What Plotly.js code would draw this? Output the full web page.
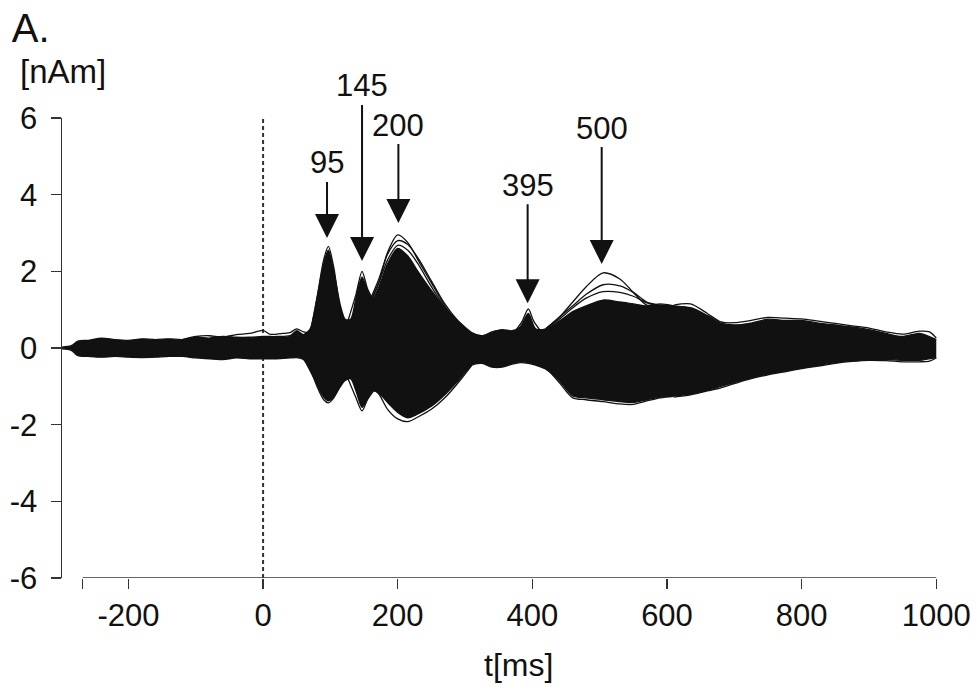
<!DOCTYPE html>
<html>
<head>
<meta charset="utf-8">
<script src="https://cdn.plot.ly/plotly-3.0.1.min.js"></script>
<style>html,body{margin:0;padding:0;background:#fff;}#chart{width:978px;height:690px;}</style>
</head>
<body>
<div id="chart"></div>
<script>
// ---- Data (t in ms, amplitude in nAm) ----
const time = [-300,-285,-275,-260,-240,-220,-200,-180,-160,-140,-120,-100,-80,-60,-40,-20,0,20,40,50,60,70,80,90,97,105,115,122,130,138,147,155,163,172,185,200,215,230,250,270,290,310,325,340,355,370,382,394,405,420,440,460,480,505,530,550,570,590,610,635,660,680,700,725,750,775,800,825,850,875,900,925,950,975,1000];

// outer bounds of the dense bundle of source waveforms
const upperEnvelope = [0.02,0.06,0.18,0.2,0.26,0.22,0.2,0.24,0.22,0.24,0.22,0.28,0.26,0.3,0.28,0.28,0.3,0.3,0.32,0.45,0.35,0.5,1.3,2.2,2.55,2.0,1.1,0.75,0.75,1.3,1.85,1.5,1.3,1.6,2.2,2.6,2.4,2.0,1.5,1.05,0.7,0.4,0.32,0.42,0.48,0.45,0.55,0.9,0.5,0.5,0.7,0.95,1.1,1.25,1.2,1.15,1.1,1.12,1.1,1.05,0.85,0.65,0.6,0.65,0.75,0.72,0.72,0.65,0.6,0.55,0.48,0.38,0.3,0.38,0.22];
const lowerEnvelope = [-0.02,-0.06,-0.2,-0.22,-0.24,-0.22,-0.24,-0.25,-0.24,-0.22,-0.22,-0.26,-0.28,-0.3,-0.26,-0.28,-0.28,-0.28,-0.26,-0.25,-0.3,-0.6,-0.95,-1.28,-1.38,-1.28,-1.0,-0.85,-0.8,-1.12,-1.55,-1.32,-1.12,-1.18,-1.42,-1.68,-1.82,-1.72,-1.52,-1.22,-0.85,-0.45,-0.4,-0.5,-0.5,-0.42,-0.38,-0.4,-0.45,-0.55,-0.85,-1.25,-1.3,-1.35,-1.4,-1.42,-1.35,-1.28,-1.25,-1.2,-1.1,-1.0,-0.9,-0.78,-0.68,-0.6,-0.52,-0.45,-0.38,-0.33,-0.3,-0.3,-0.32,-0.32,-0.25];

// individual outer waveforms that stand out of the bundle
const tBaseline = [-120,-100,-80,-60,-40,-20,0,10,20,30,40,50,60,70];
const baselineTop = [0.22,0.3,0.32,0.28,0.35,0.38,0.46,0.36,0.36,0.38,0.4,0.5,0.42,0.4];

const tP95 = [70,80,90,97,105,115,125];
const p95Top = [0.4,1.3,2.3,2.65,2.1,1.0,0.55];
const p95Bottom = [-0.5,-1.0,-1.35,-1.43,-1.3,-0.95,-0.7];

const tP145 = [125,138,147,155,165];
const p145Top = [0.65,1.4,2.0,1.55,1.2];
const p145Bottom = [-0.75,-1.3,-1.64,-1.35,-1.1];

const tP200 = [160,172,185,200,215,230,250,270,290,310];
const p200TopA = [1.2,1.7,2.5,2.95,2.75,2.3,1.7,1.1,0.65,0.35];
const p200TopB = [1.3,1.8,2.45,2.8,2.7,2.35,1.75,1.15,0.7,0.38];
const p200TopC = [1.25,1.7,2.3,2.68,2.55,2.2,1.6,1.05,0.6,0.35];
const p200Bottom = [-1.0,-1.2,-1.6,-1.85,-1.92,-1.8,-1.6,-1.3,-0.9,-0.45];

const tP395 = [375,385,394,402,412];
const p395Top = [0.45,0.7,1.02,0.7,0.45];

const tP500 = [420,440,460,480,505,530,550,570,590,610];
const p500TopA = [0.5,0.8,1.2,1.6,1.96,1.8,1.45,1.12,1.15,1.1];
const p500TopB = [0.5,0.8,1.1,1.4,1.65,1.62,1.45,1.2,1.12,1.08];
const p500TopC = [0.5,0.75,1.05,1.3,1.47,1.45,1.35,1.18,1.1,1.06];
const p500Bottom = [-0.5,-0.9,-1.3,-1.35,-1.4,-1.46,-1.47,-1.38,-1.3,-1.26];

const tLate = [610,635,660,680,700,725,750,775,800,825,850,875,900,925,950,975,990,1000];
const lateTop = [1.12,1.15,0.9,0.68,0.66,0.72,0.8,0.78,0.76,0.7,0.64,0.58,0.52,0.42,0.36,0.44,0.42,0.26];
const lateBottom = [-1.28,-1.22,-1.12,-1.04,-0.93,-0.8,-0.7,-0.62,-0.54,-0.47,-0.4,-0.35,-0.32,-0.33,-0.36,-0.36,-0.34,-0.26];

// peak labels (latency in ms) and the height the arrows point to
const peakLabels = ['95','145','200','395','500'];
const peakTimes = [95,147,201,393,503];
const peakArrowY = [2.87,2.27,3.26,1.17,2.19];

// axis ticks
const yTickVals = [-6,-4,-2,0,2,4,6];
const yTickText = ['-6','-4','-2','0','2','4','6'];
const xTickVals = [-268,-200,0,200,400,600,800,1000];
const xTickText = ['','-200','0','200','400','600','800','1000'];

// ---- Plot ----
const INK = '#111';
const FONT = 'Liberation Sans, Arial, Helvetica, sans-serif';
const lineStyle = {color: INK, width: 1.3, shape: 'spline', smoothing: 0.8};

function wave(x, y, extra) {
  return Object.assign({x: x, y: y, type: 'scatter', mode: 'lines', line: lineStyle, hoverinfo: 'skip', showlegend: false}, extra || {});
}

const traces = [
  wave(time, lowerEnvelope),
  wave(time, upperEnvelope, {fill: 'tonexty', fillcolor: INK}),
  wave(tBaseline, baselineTop),
  wave(tP95, p95Top), wave(tP95, p95Bottom),
  wave(tP145, p145Top), wave(tP145, p145Bottom),
  wave(tP200, p200TopA), wave(tP200, p200TopB), wave(tP200, p200TopC), wave(tP200, p200Bottom),
  wave(tP395, p395Top),
  wave(tP500, p500TopA), wave(tP500, p500TopB), wave(tP500, p500TopC), wave(tP500, p500Bottom),
  wave(tLate, lateTop), wave(tLate, lateBottom)
];

const arrowOffsets = [-75,-175,-98,-118,-136];
const annotations = peakLabels.map((lab, i) => ({
  x: peakTimes[i], y: peakArrowY[i], xref: 'x', yref: 'y',
  text: lab, showarrow: true, ax: 0, ay: arrowOffsets[i],
  axref: 'pixel', ayref: 'pixel',
  arrowhead: 2, arrowsize: 2.4, arrowwidth: 2, arrowcolor: INK, standoff: 0,
  font: {family: FONT, size: 31, color: INK}
}));
annotations.push({
  text: '[nAm]', xref: 'paper', yref: 'paper', x: -0.05, y: 1.102,
  xanchor: 'left', yanchor: 'middle', showarrow: false,
  font: {family: FONT, size: 33, color: INK}
});
annotations.push({
  text: 't[ms]', xref: 'x', yref: 'paper', x: 380, y: -0.189,
  xanchor: 'center', yanchor: 'middle', showarrow: false,
  font: {family: FONT, size: 32, color: INK}
});

const layout = {
  width: 978, height: 690,
  margin: {l: 62, r: 35, t: 118, b: 112},
  paper_bgcolor: '#fff', plot_bgcolor: '#fff',
  title: {text: 'A.', x: 0.012, xanchor: 'left', xref: 'container', y: 0.96, yref: 'container', yanchor: 'middle',
          font: {family: FONT, size: 40, color: INK}},
  xaxis: {
    range: [-298.7, 1010], showline: false, showgrid: false, zeroline: false,
    ticks: 'outside', ticklen: 10, tickwidth: 1.5, tickcolor: '#333',
    tickmode: 'array', tickvals: xTickVals, ticktext: xTickText,
    tickfont: {family: FONT, size: 31, color: INK}
  },
  yaxis: {
    range: [-6, 6], showline: true, linecolor: '#333', linewidth: 1.5,
    showgrid: false, zeroline: false,
    ticks: 'outside', ticklen: 10, tickwidth: 1.5, tickcolor: '#333',
    tickmode: 'array', tickvals: yTickVals, ticktext: yTickText,
    ticklabelstandoff: 7,
    tickfont: {family: FONT, size: 31, color: INK}
  },
  shapes: [
    {type: 'line', xref: 'x', yref: 'y', x0: -268, x1: 1000, y0: -6, y1: -6, line: {color: '#333', width: 1.5}},
    {type: 'line', xref: 'x', yref: 'y', x0: 0, x1: 0, y0: -6, y1: 6, line: {color: '#333', width: 2, dash: '4px,3px'}, layer: 'below'}
  ],
  annotations: annotations,
  showlegend: false
};

Plotly.newPlot('chart', traces, layout, {staticPlot: true, displayModeBar: false});
</script>
</body>
</html>
